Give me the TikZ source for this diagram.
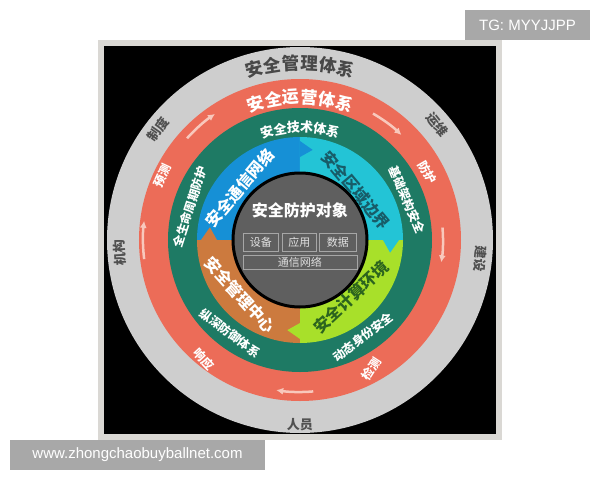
\documentclass[tikz,border=0pt]{standalone}
\usepackage{fontspec}
\newfontfamily\cjk{Noto Sans CJK SC}
\newfontfamily\wmfont{Liberation Sans}
\usetikzlibrary{arrows.meta}

\definecolor{framegray}{RGB}{218,216,212}
\definecolor{ringgray}{RGB}{206,206,206}
\definecolor{ringred}{RGB}{236,108,88}
\definecolor{ringgreen}{RGB}{30,122,100}
\definecolor{qblue}{RGB}{22,144,214}
\definecolor{qcyan}{RGB}{35,196,214}
\definecolor{qlime}{RGB}{168,224,42}
\definecolor{qorange}{RGB}{204,122,62}
\definecolor{coregray}{RGB}{95,95,95}
\definecolor{labelgray}{RGB}{80,80,80}
\definecolor{arrowpink}{RGB}{248,200,188}
\definecolor{tealtext}{RGB}{24,92,104}
\definecolor{limetext}{RGB}{44,100,30}
\definecolor{wmgray}{RGB}{168,168,168}

\tikzset{
  cjkfont/.style={font=\cjk\bfseries\fontsize{#1}{#1}\selectfont, inner sep=0pt},
  graylabel/.style={cjkfont=13, text=labelgray},
  redlabel/.style={cjkfont=12, text=white},
  greenlabel/.style={cjkfont=12, text=white},
  quadlabel/.style={cjkfont=16},
  cyclearrow/.style={arrowpink, line width=2.5pt, -{Latex[length=7pt,width=7pt]}},
  objbox/.style={draw=gray!70, thin, font=\cjk\fontsize{11}{11}\selectfont, text=white!88!black, inner sep=0pt},
  watermark/.style={fill=wmgray, text=white, font=\wmfont\fontsize{15}{15}\selectfont, inner sep=0pt}
}

\begin{document}
\begin{tikzpicture}[x=1pt, y=1pt]
    \useasboundingbox (-300,-240) rectangle (300,240);

    % Photo frame and black square
    \fill[framegray] (-202,-200) rectangle (202,200);
    \fill[black] (-196,-194) rectangle (196,194);

    % Rings
    \fill[ringgray] (0,0) circle (193);
    \fill[ringred] (0,0) circle (161);
    \fill[ringgreen] (0,0) circle (132);

    % Four quadrants with tabs
    \foreach \a/\col in {90/qblue, 0/qcyan, -90/qlime, 180/qorange} {
        \fill[\col] (0,0) -- (\a:103) arc[start angle=\a, end angle=\a+90, radius=103] -- cycle;
    }
    \foreach \a/\col in {90/qblue, 0/qcyan, -90/qlime, 180/qorange} {
        \fill[\col] (\a:83) -- (\a-8:91) -- (\a:99) -- cycle;
    }

    % Core
    \filldraw[fill=coregray, draw=black, line width=3pt] (0,0) circle (67);

    % Top titles along the arcs
    \foreach \ch [count=\i] in {安,全,管,理,体,系}
        \node[graylabel, cjkfont=17.5, text=labelgray!90!black, rotate={(3.5-\i)*6.0}] (mgmt\i) at ({90+(3.5-\i)*6.0}:177) {\ch};
    \foreach \ch [count=\i] in {安,全,运,营,体,系}
        \node[redlabel, cjkfont=17, rotate={(3.5-\i)*7.2}] (ops\i) at ({90+(3.5-\i)*7.2}:143) {\ch};
    \foreach \ch [count=\i] in {安,全,技,术,体,系}
        \node[greenlabel, cjkfont=13, rotate={(3.5-\i)*6.8}] (tech\i) at ({90+(3.5-\i)*6.8}:113) {\ch};

    % Outer ring labels
    \node[graylabel, rotate=55] (rules) at (142:180) {制度};
    \node[graylabel, rotate=-52] (maint) at (40:179) {运维};
    \node[graylabel, rotate=-95] (build) at (-6:181) {建设};
    \node[graylabel] (staff) at (-90:185) {人员};
    \node[graylabel, rotate=93] (org) at (184:181) {机构};

    % Operation cycle
    \node[redlabel, rotate=65] (predict) at (155:152) {预测};
    \node[redlabel, rotate=-60] (protect) at (28:144) {防护};
    \node[redlabel, rotate=57] (detect) at (-61:147) {检测};
    \node[redlabel, rotate=-47] (respond) at (-129:153) {响应};
    \draw[cyclearrow] (138:152) arc[start angle=138, end angle=124, radius=152];
    \draw[cyclearrow] (60:146) arc[start angle=60, end angle=46, radius=146];
    \draw[cyclearrow] (5:143) arc[start angle=5, end angle=-9, radius=143];
    \draw[cyclearrow] (-85:152) arc[start angle=-85, end angle=-99, radius=152];
    \draw[cyclearrow] (187:157) arc[start angle=187, end angle=173, radius=157];

    % Technology ring labels
    \node[greenlabel, rotate=72] (lifecycle) at (-110,33) {全生命周期防护};
    \node[greenlabel, rotate=-67] (infra) at (107,40) {基础架构安全};
    \node[greenlabel, rotate=-37] (depth) at (-70,-93) {纵深防御体系};
    \node[greenlabel, rotate=37] (identity) at (63,-97) {动态身份安全};

    % Quadrant labels
    \node[quadlabel, text=white, rotate=50] (comm) at (-60,52) {安全通信网络};
    \node[quadlabel, text=tealtext, rotate=-50] (border) at (56,50) {安全区域边界};
    \node[quadlabel, text=limetext, rotate=43] (compute) at (51,-57) {安全计算环境};
    \node[quadlabel, text=white, rotate=-48] (center) at (-60,-55) {安全管理中心};

    % Protected objects
    \node[cjkfont=16, text=white] (target) at (0,30) {安全防护对象};
    \node[objbox, minimum width=35pt, minimum height=18pt] (dev) at (-39,-2.5) {设备};
    \node[objbox, minimum width=34pt, minimum height=18pt] (app) at (-0.5,-2.5) {应用};
    \node[objbox, minimum width=37pt, minimum height=18pt] (data) at (38,-2.5) {数据};
    \node[objbox, minimum width=114pt, minimum height=14pt] (net) at (0,-22) {通信网络};

    % Watermarks
    \node[watermark, minimum width=125pt, minimum height=30pt] (tg) at (227.5,215) {TG: MYYJJPP};
    \node[watermark, minimum width=255pt, minimum height=30pt] (site) at (-162.5,-215) {www.zhongchaobuyballnet.com};

\end{tikzpicture}
\end{document}
